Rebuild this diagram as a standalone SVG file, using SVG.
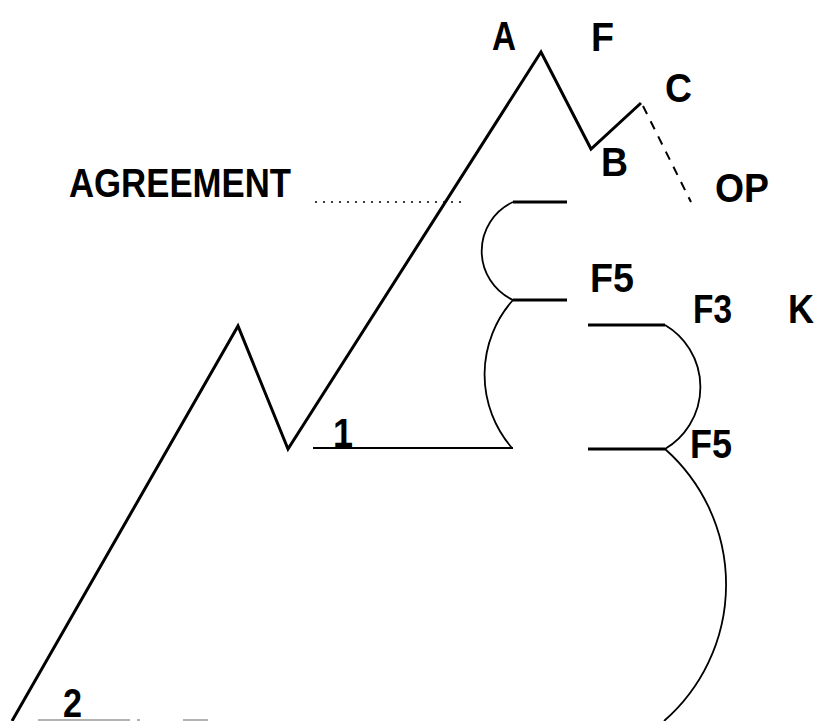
<svg xmlns="http://www.w3.org/2000/svg" width="816" height="721" viewBox="0 0 816 721">
<style>
.t{font-family:"Liberation Sans",Arial,sans-serif;font-weight:bold;font-size:41px;fill:#000}
.thick{fill:none;stroke:#000;stroke-width:3;stroke-linejoin:miter;stroke-linecap:butt}
.thin{fill:none;stroke:#000;stroke-width:1.8}
.dot{fill:none;stroke:#000;stroke-width:1.5;stroke-dasharray:2 6}
.dash{fill:none;stroke:#000;stroke-width:2;stroke-dasharray:9 8}
</style>
<rect width="816" height="721" fill="#fff"/>
<g id="connectors">
<polyline class="thick" points="12,721 238,326 288,449 541,52 591,149 641,103"/>
<path class="dash" d="M643,106 L691,202"/>
<path class="dot" d="M315,202 H466"/>
<path class="thick" d="M513,202 H567 M513,300 H567"/>
<path class="thin" d="M513,202 A54,54 0 0 0 513,300"/>
<path class="thin" d="M513,300 A112,112 0 0 0 512,448"/>
<path class="thin" d="M313,448 H513"/>
<path class="thick" d="M588,325 H665 M588,449 H665"/>
<path class="thin" d="M665,325 A72,72 0 0 1 665,449"/>
<path class="thin" d="M665,449 A181,181 0 0 1 664,721"/>
<path d="M38,720 H130 M137,720 H140 M183,720 H208" fill="none" stroke="#999" stroke-width="1.5"/>
</g>
<g id="node-A"><text class="t" x="492" y="50" textLength="24" lengthAdjust="spacingAndGlyphs">A</text></g>
<g id="node-F"><text class="t" x="591" y="51" textLength="23" lengthAdjust="spacingAndGlyphs">F</text></g>
<g id="node-C"><text class="t" x="665" y="102" textLength="27" lengthAdjust="spacingAndGlyphs">C</text></g>
<g id="node-B"><text class="t" x="601" y="176" textLength="27" lengthAdjust="spacingAndGlyphs">B</text></g>
<g id="node-AGREEMENT"><text class="t" x="69" y="197" textLength="222" lengthAdjust="spacingAndGlyphs">AGREEMENT</text></g>
<g id="node-OP"><text class="t" x="715" y="202" textLength="54" lengthAdjust="spacingAndGlyphs">OP</text></g>
<g id="node-F5a"><text class="t" x="590" y="292" textLength="44" lengthAdjust="spacingAndGlyphs">F5</text></g>
<g id="node-F3"><text class="t" x="693" y="323" textLength="39" lengthAdjust="spacingAndGlyphs">F3</text></g>
<g id="node-K"><text class="t" x="788" y="323" textLength="26" lengthAdjust="spacingAndGlyphs">K</text></g>
<g id="node-F5b"><text class="t" x="690" y="458" textLength="42" lengthAdjust="spacingAndGlyphs">F5</text></g>
<g id="node-1"><text class="t" x="333" y="447" textLength="20" lengthAdjust="spacingAndGlyphs">1</text></g>
<g id="node-2"><text class="t" x="63" y="717" font-size="38" textLength="19" lengthAdjust="spacingAndGlyphs">2</text></g>
</svg>
